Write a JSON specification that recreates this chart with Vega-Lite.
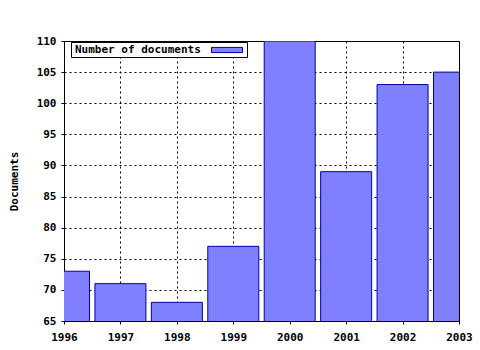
{
  "$schema": "https://vega.github.io/schema/vega-lite/v6.json",
  "width": 395,
  "height": 280,
  "autosize": {"type": "none"},
  "padding": {"left": 64, "top": 41, "right": 21, "bottom": 29},
  "background": "white",
  "config": {
    "view": {"stroke": "black", "strokeWidth": 1},
    "font": "DejaVu Sans Mono",
    "axis": {
      "labelFont": "DejaVu Sans Mono",
      "labelFontSize": 11,
      "labelFontWeight": "bold",
      "labelColor": "black",
      "titleFont": "DejaVu Sans Mono",
      "titleFontSize": 11,
      "titleFontWeight": "bold",
      "titleColor": "black",
      "domainColor": "black",
      "tickColor": "black",
      "gridColor": "black",
      "gridDash": [2, 3],
      "gridOpacity": 1,
      "gridWidth": 1
    },
    "legend": {
      "labelFont": "DejaVu Sans Mono",
      "labelFontSize": 11,
      "labelFontWeight": "bold",
      "labelColor": "black"
    }
  },
  "data": {
    "values": [
      {"year": 1996, "documents": 73},
      {"year": 1997, "documents": 71},
      {"year": 1998, "documents": 68},
      {"year": 1999, "documents": 77},
      {"year": 2000, "documents": 110},
      {"year": 2001, "documents": 89},
      {"year": 2002, "documents": 103},
      {"year": 2003, "documents": 105}
    ]
  },
  "mark": {"type": "bar", "width": 51, "clip": true, "stroke": "#0000a0", "strokeWidth": 1},
  "encoding": {
    "x": {
      "field": "year",
      "type": "quantitative",
      "scale": {"domain": [1996, 2003], "nice": false, "zero": false, "padding": 0},
      "axis": {
        "title": null,
        "values": [1996, 1997, 1998, 1999, 2000, 2001, 2002, 2003],
        "format": "d",
        "tickSize": 3,
        "labelPadding": 7,
        "labelFlush": false
      }
    },
    "y": {
      "field": "documents",
      "type": "quantitative",
      "scale": {"domain": [65, 110], "nice": false, "zero": false},
      "axis": {
        "title": "Documents",
        "values": [65, 70, 75, 80, 85, 90, 95, 100, 105, 110],
        "tickSize": 3,
        "labelPadding": 5,
        "titlePadding": 17
      }
    },
    "color": {
      "datum": "Number of documents",
      "type": "nominal",
      "scale": {"range": ["#8080ff"]},
      "legend": {
        "title": null,
        "orient": "none",
        "legendX": 7,
        "legendY": 1,
        "padding": 2,
        "strokeColor": "black",
        "fillColor": "white",
        "cornerRadius": 0,
        "symbolType": "M-3,-0.5H3V0.5H-3Z",
        "symbolSize": 107,
        "symbolStrokeColor": "#0000a0",
        "symbolStrokeWidth": 1,
        "symbolFillColor": "#8080ff",
        "symbolOpacity": 1,
        "symbolOffset": 148,
        "labelOffset": -158
      }
    }
  }
}
